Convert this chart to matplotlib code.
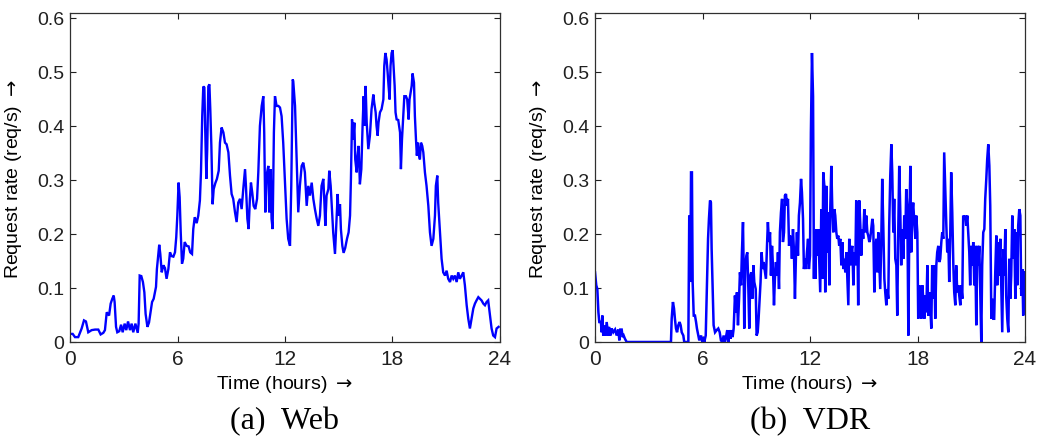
import matplotlib
matplotlib.use("Agg")
import matplotlib.pyplot as plt

# ---------------- data ----------------
web_t = [0.05, 0.15, 0.28, 0.46, 0.65, 0.78, 0.89, 1.02, 1.21, 1.40, 1.58, 1.71, 1.86, 1.95, 2.05, 2.18,
         2.27, 2.36, 2.44, 2.49, 2.57, 2.64, 2.75, 2.85, 2.94, 3.05, 3.14, 3.24, 3.35, 3.44, 3.53, 3.65,
         3.78, 3.83, 3.89, 3.98, 4.07, 4.15, 4.22, 4.32, 4.41, 4.48, 4.58, 4.67, 4.74, 4.80, 4.85, 4.93,
         4.98, 5.04, 5.12, 5.21, 5.30, 5.39, 5.49, 5.58, 5.67, 5.77, 5.86, 5.93, 5.99, 6.06, 6.12, 6.18,
         6.25, 6.32, 6.40, 6.51, 6.62, 6.71, 6.81, 6.88, 6.96, 7.07, 7.16, 7.25, 7.31, 7.38, 7.44, 7.50,
         7.55, 7.61, 7.66, 7.72, 7.78, 7.83, 7.89, 7.96, 8.02, 8.11, 8.20, 8.30, 8.37, 8.46, 8.56, 8.65,
         8.74, 8.84, 8.93, 9.02, 9.11, 9.21, 9.30, 9.39, 9.49, 9.58, 9.67, 9.77, 9.82, 9.90, 9.97, 10.04,
         10.10, 10.17, 10.25, 10.34, 10.44, 10.51, 10.60, 10.70, 10.79, 10.84, 10.90, 10.97, 11.07, 11.12,
         11.20, 11.25, 11.31, 11.38, 11.44, 11.53, 11.63, 11.72, 11.81, 11.90, 12.00, 12.09, 12.18, 12.28,
         12.35, 12.43, 12.46, 12.56, 12.65, 12.74, 12.83, 12.93, 13.02, 13.11, 13.21, 13.30, 13.39, 13.49,
         13.58, 13.67, 13.77, 13.86, 13.95, 14.04, 14.14, 14.19, 14.25, 14.32, 14.42, 14.47, 14.55, 14.62,
         14.69, 14.79, 14.88, 14.94, 14.99, 15.07, 15.12, 15.20, 15.27, 15.36, 15.46, 15.55, 15.63, 15.68,
         15.74, 15.81, 15.87, 15.92, 16.00, 16.05, 16.11, 16.18, 16.26, 16.33, 16.39, 16.44, 16.50, 16.56,
         16.65, 16.74, 16.83, 16.93, 16.98, 17.06, 17.11, 17.17, 17.22, 17.30, 17.39, 17.49, 17.54, 17.60,
         17.67, 17.73, 17.78, 17.84, 17.89, 17.95, 18.01, 18.06, 18.12, 18.17, 18.23, 18.32, 18.42, 18.47,
         18.53, 18.60, 18.66, 18.75, 18.82, 18.90, 18.95, 19.01, 19.07, 19.12, 19.20, 19.25, 19.31, 19.36,
         19.42, 19.48, 19.53, 19.59, 19.66, 19.72, 19.81, 19.90, 20.00, 20.09, 20.18, 20.28, 20.37, 20.42,
         20.50, 20.55, 20.65, 20.74, 20.83, 20.93, 21.02, 21.11, 21.21, 21.30, 21.39, 21.48, 21.58, 21.67,
         21.76, 21.86, 21.95, 22.04, 22.14, 22.23, 22.32, 22.41, 22.51, 22.60, 22.69, 22.79, 22.88, 22.97,
         23.07, 23.16, 23.25, 23.34, 23.44, 23.53, 23.62, 23.72, 23.81, 23.92]
web_v = [0.015, 0.015, 0.009, 0.009, 0.025, 0.040, 0.038, 0.018, 0.022, 0.023, 0.023, 0.014, 0.017, 0.022,
         0.055, 0.049, 0.071, 0.080, 0.086, 0.074, 0.028, 0.018, 0.020, 0.032, 0.018, 0.034, 0.022, 0.038,
         0.022, 0.034, 0.018, 0.034, 0.017, 0.034, 0.123, 0.122, 0.111, 0.092, 0.052, 0.028, 0.036, 0.052,
         0.074, 0.080, 0.092, 0.102, 0.135, 0.163, 0.180, 0.163, 0.129, 0.142, 0.137, 0.117, 0.135, 0.166,
         0.159, 0.158, 0.166, 0.194, 0.234, 0.295, 0.268, 0.203, 0.145, 0.154, 0.185, 0.178, 0.177, 0.166,
         0.163, 0.209, 0.231, 0.220, 0.234, 0.262, 0.314, 0.418, 0.473, 0.471, 0.388, 0.302, 0.357, 0.473,
         0.477, 0.431, 0.363, 0.255, 0.283, 0.294, 0.302, 0.317, 0.369, 0.397, 0.388, 0.369, 0.366, 0.351,
         0.308, 0.274, 0.265, 0.240, 0.222, 0.258, 0.265, 0.246, 0.283, 0.320, 0.289, 0.228, 0.209, 0.265,
         0.295, 0.277, 0.252, 0.246, 0.265, 0.314, 0.400, 0.437, 0.455, 0.388, 0.240, 0.308, 0.326, 0.240,
         0.320, 0.228, 0.209, 0.388, 0.455, 0.437, 0.437, 0.434, 0.418, 0.369, 0.295, 0.228, 0.191, 0.178,
         0.289, 0.486, 0.483, 0.437, 0.338, 0.240, 0.289, 0.326, 0.332, 0.314, 0.252, 0.289, 0.271, 0.295,
         0.265, 0.246, 0.228, 0.215, 0.234, 0.289, 0.302, 0.265, 0.215, 0.271, 0.283, 0.317, 0.289, 0.246,
         0.203, 0.163, 0.228, 0.274, 0.234, 0.255, 0.209, 0.178, 0.165, 0.174, 0.191, 0.203, 0.234, 0.302,
         0.412, 0.375, 0.406, 0.338, 0.314, 0.345, 0.363, 0.292, 0.320, 0.400, 0.455, 0.400, 0.474, 0.406,
         0.357, 0.382, 0.431, 0.458, 0.443, 0.425, 0.400, 0.382, 0.406, 0.425, 0.431, 0.449, 0.511, 0.535,
         0.523, 0.498, 0.474, 0.449, 0.511, 0.535, 0.540, 0.511, 0.474, 0.425, 0.412, 0.411, 0.388, 0.320,
         0.375, 0.418, 0.455, 0.455, 0.449, 0.412, 0.449, 0.462, 0.474, 0.497, 0.480, 0.418, 0.375, 0.345,
         0.369, 0.345, 0.338, 0.369, 0.363, 0.351, 0.314, 0.289, 0.252, 0.203, 0.178, 0.191, 0.234, 0.289,
         0.308, 0.258, 0.203, 0.154, 0.129, 0.123, 0.132, 0.117, 0.111, 0.123, 0.117, 0.123, 0.111, 0.129,
         0.117, 0.123, 0.129, 0.105, 0.068, 0.043, 0.025, 0.043, 0.062, 0.071, 0.077, 0.083, 0.080, 0.077,
         0.071, 0.068, 0.074, 0.077, 0.049, 0.025, 0.012, 0.009, 0.025, 0.028]

vdr_t = [0.00, 0.07, 0.13, 0.19, 0.24, 0.33, 0.37, 0.41, 0.46, 0.52, 0.60, 0.65, 0.74, 0.78, 0.86, 0.93,
         1.02, 1.12, 1.21, 1.30, 1.36, 1.41, 1.49, 1.54, 1.60, 1.67, 1.77, 4.24, 4.28, 4.35, 4.41, 4.46,
         4.52, 4.58, 4.65, 4.72, 4.78, 4.84, 4.93, 4.98, 5.13, 5.21, 5.26, 5.32, 5.36, 5.41, 5.45, 5.51,
         5.58, 5.64, 5.69, 5.77, 5.82, 5.92, 5.99, 6.05, 6.10, 6.18, 6.25, 6.31, 6.36, 6.42, 6.47, 6.51,
         6.57, 6.62, 6.70, 6.79, 6.88, 6.96, 7.03, 7.11, 7.18, 7.25, 7.31, 7.38, 7.44, 7.50, 7.57, 7.63,
         7.68, 7.74, 7.81, 7.87, 7.92, 7.98, 8.04, 8.09, 8.15, 8.20, 8.26, 8.30, 8.33, 8.39, 8.45, 8.50,
         8.56, 8.61, 8.67, 8.72, 8.78, 8.84, 8.89, 8.97, 9.02, 9.08, 9.13, 9.19, 9.24, 9.30, 9.36, 9.41,
         9.49, 9.54, 9.60, 9.65, 9.71, 9.77, 9.82, 9.88, 9.93, 9.99, 10.04, 10.10, 10.16, 10.21, 10.27,
         10.32, 10.38, 10.44, 10.49, 10.55, 10.60, 10.66, 10.71, 10.77, 10.83, 10.88, 10.94, 10.99, 11.05,
         11.10, 11.16, 11.22, 11.27, 11.33, 11.38, 11.44, 11.50, 11.55, 11.61, 11.66, 11.72, 11.77, 11.83,
         11.89, 11.94, 12.00, 12.05, 12.11, 12.17, 12.22, 12.24, 12.30, 12.35, 12.41, 12.46, 12.52, 12.57,
         12.63, 12.69, 12.74, 12.80, 12.85, 12.91, 12.97, 13.02, 13.08, 13.13, 13.19, 13.24, 13.30, 13.36,
         13.41, 13.47, 13.52, 13.58, 13.63, 13.69, 13.75, 13.80, 13.86, 13.91, 13.97, 14.03, 14.08, 14.14,
         14.19, 14.25, 14.30, 14.36, 14.42, 14.47, 14.53, 14.58, 14.64, 14.69, 14.75, 14.81, 14.86, 14.92,
         14.97, 15.03, 15.09, 15.14, 15.20, 15.25, 15.31, 15.36, 15.42, 15.48, 15.53, 15.59, 15.64, 15.70,
         15.76, 15.81, 15.87, 15.92, 15.98, 16.03, 16.09, 16.15, 16.20, 16.26, 16.31, 16.37, 16.42, 16.48,
         16.54, 16.59, 16.65, 16.70, 16.76, 16.82, 16.87, 16.93, 16.98, 17.04, 17.09, 17.15, 17.21, 17.26,
         17.32, 17.37, 17.43, 17.49, 17.54, 17.60, 17.65, 17.71, 17.76, 17.82, 17.88, 17.93, 17.99, 18.04,
         18.10, 18.15, 18.21, 18.27, 18.32, 18.38, 18.43, 18.49, 18.55, 18.60, 18.66, 18.71, 18.77, 18.82,
         18.88, 18.94, 18.99, 19.05, 19.10, 19.16, 19.22, 19.27, 19.33, 19.38, 19.44, 19.49, 19.55, 19.61,
         19.66, 19.72, 19.77, 19.83, 19.88, 19.94, 20.00, 20.05, 20.11, 20.16, 20.22, 20.28, 20.33, 20.39,
         20.44, 20.50, 20.55, 20.61, 20.67, 20.72, 20.78, 20.83, 20.89, 20.94, 21.00, 21.06, 21.11, 21.17,
         21.22, 21.28, 21.34, 21.39, 21.45, 21.50, 21.56, 21.61, 21.67, 21.73, 21.78, 21.84, 21.89, 21.95,
         22.01, 22.06, 22.12, 22.17, 22.23, 22.28, 22.34, 22.40, 22.45, 22.51, 22.56, 22.62, 22.67, 22.73,
         22.79, 22.84, 22.90, 22.95, 23.01, 23.07, 23.12, 23.18, 23.23, 23.29, 23.34, 23.40, 23.46, 23.51,
         23.57, 23.62, 23.68, 23.74, 23.79, 23.85, 23.90, 23.96, 24.00]
vdr_v = [0.129, 0.105, 0.098, 0.055, 0.037, 0.037, 0.018, 0.049, 0.012, 0.031, 0.012, 0.037, 0.012, 0.028,
         0.012, 0.025, 0.018, 0.023, 0.012, 0.023, 0.003, 0.023, 0.023, 0.009, 0.012, 0.006, 0.0, 0.0,
         0.043, 0.074, 0.062, 0.043, 0.025, 0.018, 0.031, 0.037, 0.031, 0.018, 0.012, 0.0, 0.0, 0.0, 0.234,
         0.111, 0.314, 0.314, 0.111, 0.049, 0.049, 0.037, 0.025, 0.012, 0.003, 0.012, 0.0, 0.009, 0.0, 0.012,
         0.111, 0.191, 0.228, 0.262, 0.258, 0.172, 0.098, 0.031, 0.018, 0.022, 0.025, 0.018, 0.003, 0.0,
         0.012, 0.0, 0.009, 0.022, 0.0, 0.022, 0.006, 0.022, 0.009, 0.025, 0.086, 0.055, 0.092, 0.031, 0.080,
         0.129, 0.105, 0.166, 0.222, 0.129, 0.025, 0.142, 0.160, 0.166, 0.098, 0.025, 0.123, 0.129, 0.080,
         0.142, 0.111, 0.098, 0.012, 0.018, 0.043, 0.080, 0.111, 0.166, 0.135, 0.148, 0.129, 0.117, 0.178,
         0.222, 0.185, 0.203, 0.123, 0.178, 0.142, 0.068, 0.117, 0.148, 0.123, 0.166, 0.098, 0.203, 0.240,
         0.265, 0.185, 0.203, 0.271, 0.274, 0.252, 0.265, 0.178, 0.197, 0.191, 0.154, 0.209, 0.172, 0.080,
         0.166, 0.203, 0.160, 0.234, 0.258, 0.302, 0.277, 0.228, 0.135, 0.154, 0.135, 0.166, 0.191, 0.135,
         0.160, 0.388, 0.535, 0.455, 0.117, 0.203, 0.117, 0.209, 0.160, 0.209, 0.142, 0.092, 0.246, 0.117,
         0.314, 0.289, 0.092, 0.289, 0.166, 0.240, 0.105, 0.246, 0.326, 0.252, 0.203, 0.246, 0.234, 0.203,
         0.191, 0.197, 0.178, 0.191, 0.142, 0.185, 0.135, 0.154, 0.129, 0.166, 0.123, 0.068, 0.191, 0.142,
         0.166, 0.178, 0.105, 0.166, 0.142, 0.262, 0.203, 0.068, 0.262, 0.215, 0.160, 0.209, 0.191, 0.246,
         0.203, 0.234, 0.203, 0.197, 0.185, 0.191, 0.209, 0.228, 0.215, 0.092, 0.166, 0.191, 0.129, 0.203,
         0.148, 0.098, 0.191, 0.302, 0.215, 0.117, 0.092, 0.068, 0.098, 0.080, 0.215, 0.308, 0.366, 0.314,
         0.203, 0.265, 0.154, 0.142, 0.049, 0.215, 0.326, 0.240, 0.142, 0.209, 0.154, 0.234, 0.191, 0.283,
         0.252, 0.012, 0.203, 0.326, 0.166, 0.240, 0.258, 0.222, 0.191, 0.234, 0.203, 0.043, 0.105, 0.092,
         0.043, 0.105, 0.080, 0.043, 0.086, 0.055, 0.142, 0.049, 0.092, 0.068, 0.025, 0.142, 0.080, 0.142,
         0.043, 0.142, 0.166, 0.178, 0.148, 0.154, 0.185, 0.203, 0.191, 0.351, 0.283, 0.215, 0.166, 0.191,
         0.111, 0.203, 0.314, 0.240, 0.142, 0.092, 0.068, 0.142, 0.092, 0.105, 0.086, 0.068, 0.105, 0.080,
         0.234, 0.228, 0.234, 0.215, 0.234, 0.203, 0.166, 0.105, 0.178, 0.142, 0.185, 0.105, 0.178, 0.031,
         0.178, 0.142, 0.178, 0.098, 0.0, 0.142, 0.203, 0.209, 0.265, 0.302, 0.338, 0.366, 0.326, 0.252,
         0.043, 0.080, 0.043, 0.043, 0.129, 0.197, 0.105, 0.185, 0.123, 0.191, 0.111, 0.018, 0.172, 0.123,
         0.209, 0.086, 0.043, 0.018, 0.154, 0.080, 0.123, 0.234, 0.154, 0.209, 0.080, 0.203, 0.105, 0.215,
         0.246, 0.234, 0.086, 0.135, 0.049, 0.111, 0.129]

x_ticks = [0, 6, 12, 18, 24]
y_ticks = [0, 0.1, 0.2, 0.3, 0.4, 0.5, 0.6]
y_tick_labels = ["0", "0.1", "0.2", "0.3", "0.4", "0.5", "0.6"]
x_label = "Time (hours) $\\rightarrow$"
y_label = "Request rate (req/s) $\\rightarrow$"
captions = ["(a)  Web", "(b)  VDR"]

# ---------------- figure ----------------
W, H = 1037, 439
plt.rcParams['font.family'] = ['Liberation Sans', 'DejaVu Sans']
plt.rcParams['mathtext.fontset'] = 'dejavusans'
fig = plt.figure(figsize=(W / 100, H / 100), dpi=100)

ax_left_px = [70, 595]
ax_w_px = 430
ax_top_px, ax_bot_px = 14, 343
line_widths = [1.7, 1.8]

series = [(web_t, web_v), (vdr_t, vdr_v)]
for i, (tt, vv) in enumerate(series):
    ax = fig.add_axes([ax_left_px[i] / W, 1 - ax_bot_px / H,
                       ax_w_px / W, (ax_bot_px - ax_top_px) / H])
    ax.plot(tt, vv, color=(0, 0, 1), lw=line_widths[i], solid_joinstyle='miter')
    ax.set_xlim(0, 24)
    ax.set_ylim(0, 0.609)
    ax.set_xticks(x_ticks)
    ax.set_xticklabels([str(x) for x in x_ticks])
    ax.set_yticks(y_ticks)
    ax.set_yticklabels(y_tick_labels)
    ax.tick_params(direction='in', length=4, width=0.8, top=True, right=True,
                   colors='#202020')
    ax.tick_params(axis='x', pad=5, labelsize=15)
    ax.tick_params(axis='y', pad=4, labelsize=14)
    for s in ax.spines.values():
        s.set_linewidth(0.9)
        s.set_color('#303030')
    ax.set_xlabel(x_label, fontsize=14)
    ax.xaxis.set_label_coords(0.5, -0.095)
    ax.set_ylabel(y_label, fontsize=14)
    ax.yaxis.set_label_coords(-0.107, 0.5)
    cx = (ax_left_px[i] + ax_w_px / 2) / W
    fig.text(cx, 1 - 422 / H, captions[i], ha='center', va='center',
             fontsize=23, family=['Liberation Serif', 'DejaVu Serif'])

fig.savefig("out.png", dpi=100)
